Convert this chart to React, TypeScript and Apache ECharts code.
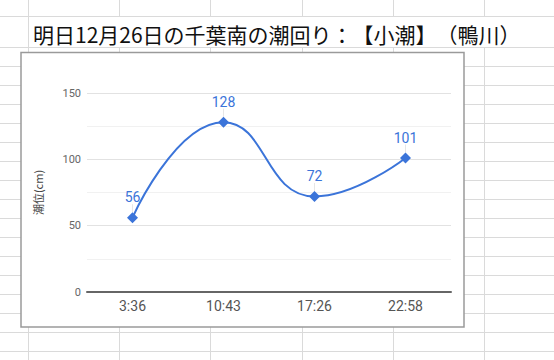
import React, { useEffect, useRef } from "react";
import * as echarts from "echarts";

const titleText = "明日12月26日の千葉南の潮回り：【小潮】（鴨川）";
const yAxisName = "潮位(cm)";
const categories = ["3:36", "10:43", "17:26", "22:58"];
const tideValues = [56, 128, 72, 101];

const W = 554;
const H = 360;

export default function App() {
  const ref = useRef<HTMLDivElement>(null);

  useEffect(() => {
    document.body.style.margin = "0";
    if (!ref.current) return;
    const chart = echarts.init(ref.current, null, { renderer: "svg" });

    const gridColor = "#dadada";
    const bg: any[] = [];
    // spreadsheet horizontal lines
    const hLines = [16, 47];
    for (let y = 66; y < H; y += 19) hLines.push(y);
    hLines.forEach((y) =>
      bg.push({
        type: "line",
        z: -20,
        shape: { x1: 0, y1: y + 0.5, x2: W, y2: y + 0.5 },
        style: { stroke: gridColor, lineWidth: 1 },
      })
    );
    for (let k = 0; k < 7; k++) {
      const x = Math.round(28 + 91.2 * k) + 0.5;
      bg.push({
        type: "line",
        z: -20,
        shape: { x1: x, y1: 0, x2: x, y2: H },
        style: { stroke: gridColor, lineWidth: 1 },
      });
    }
    // title cell covering grid
    bg.push({
      type: "rect",
      z: -15,
      shape: { x: 29, y: 17, width: W - 29, height: 30 },
      style: { fill: "#fff" },
    });
    bg.push({
      type: "text",
      z: -14,
      x: 33,
      y: 34,
      style: {
        text: titleText,
        font: '21px "Noto Sans CJK JP"',
        fill: "#111",
        verticalAlign: "middle",
        align: "left",
      },
    });
    // chart box
    bg.push({
      type: "rect",
      z: -12,
      shape: { x: 21, y: 52.5, width: 443, height: 274.5 },
      style: { fill: "#fff", stroke: "#9a9a9a", lineWidth: 1.5 },
    });

    chart.setOption({
      animation: false,
      graphic: bg,
      textStyle: { fontFamily: "Roboto, 'Noto Sans CJK JP', sans-serif" },
      grid: { left: 87, right: 103, top: 93, bottom: 68, containLabel: false },
      xAxis: {
        type: "category",
        data: categories,
        boundaryGap: true,
        axisLine: { show: true, lineStyle: { color: "#666", width: 2 } },
        axisTick: { show: false },
        axisLabel: { color: "#555", fontSize: 14, margin: 7 },
        splitLine: { show: false },
      },
      yAxis: {
        type: "value",
        min: 0,
        max: 150,
        interval: 25,
        name: yAxisName,
        nameLocation: "middle",
        nameGap: 44,
        nameRotate: 90,
        nameTextStyle: { color: "#444", fontSize: 11, fontFamily: "'Noto Sans CJK JP'" },
        axisLine: { show: false },
        axisTick: { show: false },
        axisLabel: {
          color: "#666",
          fontSize: 11,
          margin: 6,
          formatter: (v: number) => (v % 50 === 0 ? String(v) : ""),
        },
        splitLine: { show: true, lineStyle: { color: ["#e2e2e2", "#f1f1f1"], width: 1 } },
      },
      series: [
        {
          type: "line",
          data: tideValues,
          smooth: 0.5,
          symbol: "diamond",
          symbolSize: 11,
          color: "#3b74d9",
          lineStyle: { width: 2, color: "#3b74d9" },
          itemStyle: { color: "#3b74d9" },
          label: {
            show: true,
            position: "top",
            distance: 4,
            color: "#3b74d9",
            fontSize: 14,
          },
          labelLayout: { dy: -4 },
          labelLine: { show: true, lineStyle: { color: "#e6e6e6", width: 1 } },
        },
      ],
    });
    return () => chart.dispose();
  }, []);

  return (
    <>
      <style>{`svg text { text-spacing-trim: space-all; }`}</style>
      <div ref={ref} style={{ width: W, height: H }} />
    </>
  );
}
